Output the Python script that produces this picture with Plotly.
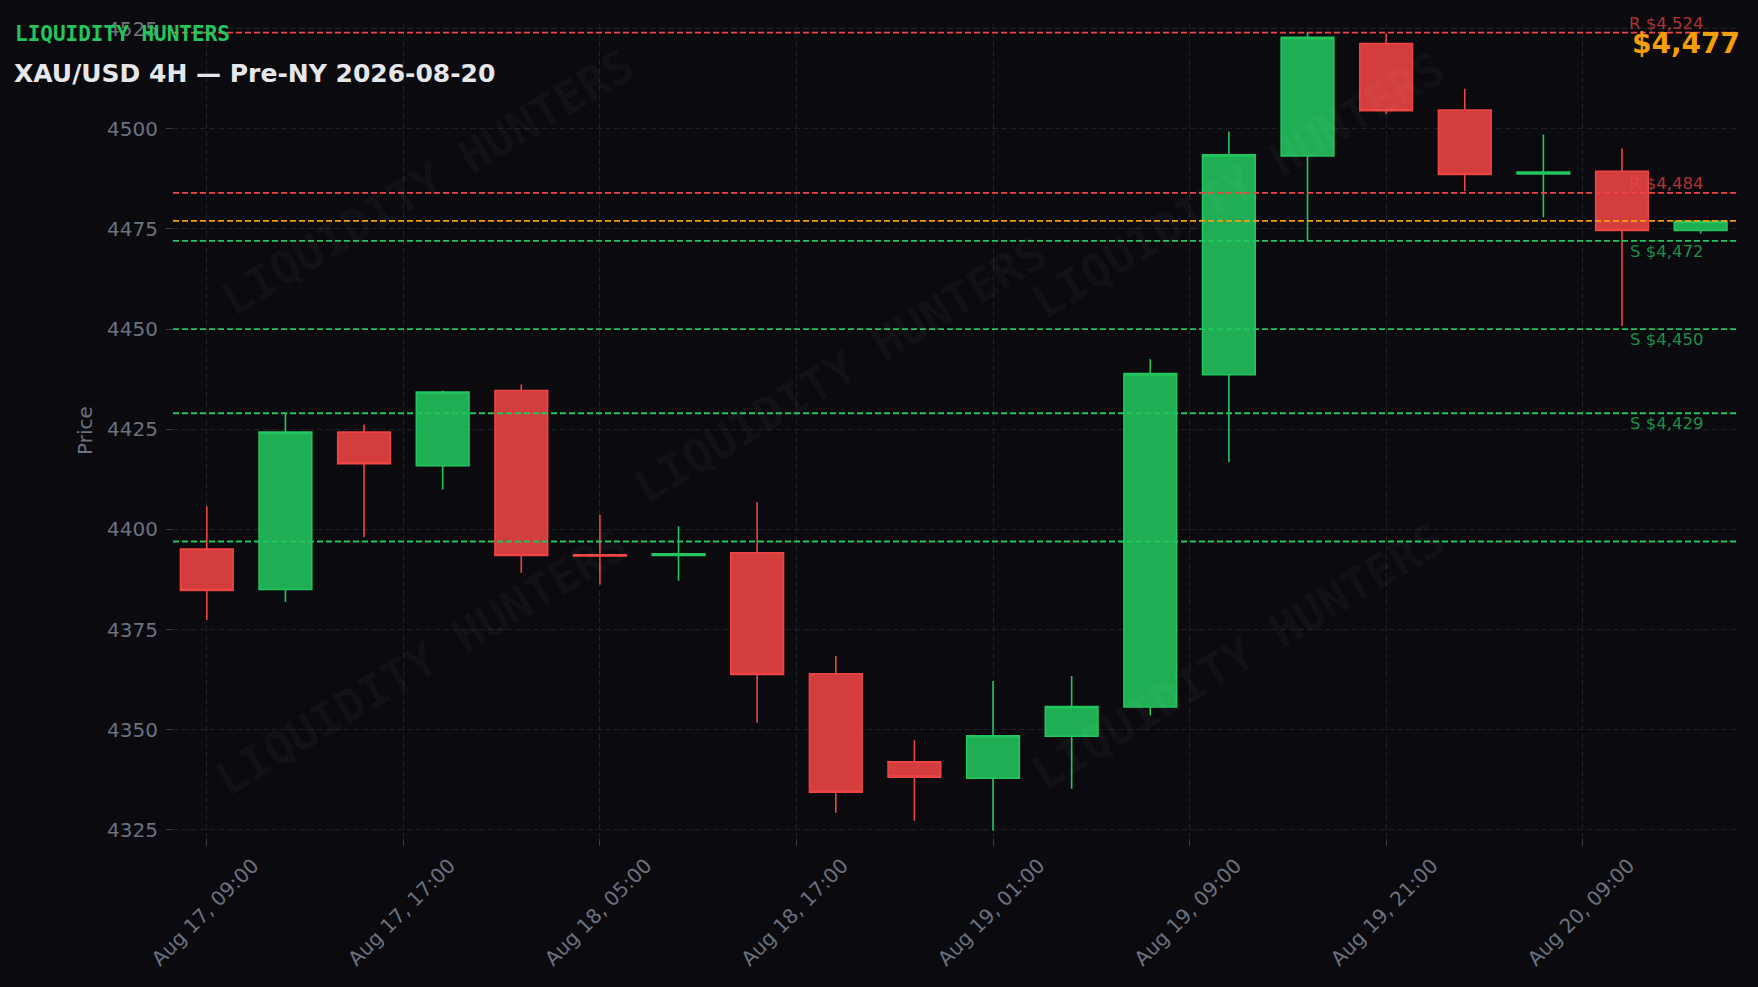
import plotly.graph_objects as go

# ---- data ----
candle_idx = list(range(20))
opens  = [4395.1, 4385.0, 4424.3, 4415.9, 4434.7, 4393.7, 4393.5, 4394.2, 4364.0, 4342.0,
          4337.9, 4348.4, 4355.7, 4438.6, 4493.2, 4521.3, 4504.7, 4488.7, 4489.4, 4474.6]
highs  = [4405.8, 4428.9, 4426.2, 4434.7, 4436.2, 4403.6, 4400.8, 4406.8, 4368.4, 4347.4,
          4362.2, 4363.4, 4442.5, 4499.3, 4524.1, 4523.7, 4510.0, 4498.6, 4495.1, 4476.9]
lows   = [4377.4, 4381.9, 4398.1, 4410.0, 4389.2, 4386.2, 4387.2, 4351.8, 4329.3, 4327.3,
          4324.8, 4335.3, 4353.6, 4416.8, 4472.1, 4503.7, 4484.4, 4477.9, 4450.8, 4473.8]
closes = [4384.8, 4424.3, 4416.4, 4434.3, 4393.5, 4393.4, 4393.9, 4363.8, 4334.4, 4338.2,
          4348.5, 4355.8, 4438.9, 4493.5, 4522.8, 4504.5, 4488.6, 4489.2, 4474.6, 4476.9]

tick_labels = ["Aug 17, 09:00", "Aug 17, 17:00", "Aug 18, 05:00", "Aug 18, 17:00",
               "Aug 19, 01:00", "Aug 19, 09:00", "Aug 19, 21:00", "Aug 20, 09:00"]
tick_step = 2.5  # candles between labelled ticks

level_prices = [4524, 4484, 4472, 4450, 4429, 4397]
level_kinds  = ["R", "R", "S", "S", "S", "S"]
level_show_label = [True, True, True, True, True, False]
current_price = 4477

title_text = "XAU/USD 4H \u2014 Pre-NY 2026-08-20"
brand_text = "LIQUIDITY HUNTERS"
y_ticks = [4325, 4350, 4375, 4400, 4425, 4450, 4475, 4500, 4525]

# ---- styling ----
BG = "#0a0a0f"
GRID = "#1e2028"
TICKC = "#6b7280"
GREEN = "#22c55e"
RED = "#ef4444"
ORANGE = "#f59e0b"
SANS = "DejaVu Sans"
MONO = "DejaVu Sans Mono"

fig = go.Figure()
fig.add_trace(go.Candlestick(
    x=candle_idx, open=opens, high=highs, low=lows, close=closes,
    increasing=dict(line=dict(color=GREEN, width=1.6), fillcolor="rgba(34,197,94,0.88)"),
    decreasing=dict(line=dict(color=RED, width=1.6), fillcolor="rgba(239,68,68,0.88)"),
    whiskerwidth=0, showlegend=False, hoverinfo="skip",
))

shapes = []
annotations = []

# watermarks
wm_pos = [(0.163, 0.805), (0.427, 0.574), (0.682, 0.801), (0.159, 0.216), (0.682, 0.223)]
for (wx, wy) in wm_pos:
    annotations.append(dict(
        xref="paper", yref="paper", x=wx, y=wy, text=brand_text, showarrow=False,
        textangle=-31, font=dict(family=MONO, size=46, color="rgba(255,255,255,0.04)", weight="bold"),
        xanchor="center", yanchor="middle",
    ))

for p, k, show in zip(level_prices, level_kinds, level_show_label):
    col = RED if k == "R" else GREEN
    shapes.append(dict(type="line", xref="paper", x0=0, x1=1, yref="y", y0=p, y1=p,
                       line=dict(color=col, width=1.8, dash="6px,3px"), layer="above"))
    if show:
        lab_col = "rgba(239,68,68,0.72)" if k == "R" else "rgba(34,197,94,0.72)"
        annotations.append(dict(
            xref="paper", yref="y", x=0.98, y=p, text=f"{k} ${p:,}", showarrow=False,
            xanchor="right", yanchor="bottom" if k == "R" else "top",
            yshift=-2 if k == "R" else 1,
            font=dict(family=SANS, size=16.5, color=lab_col),
        ))

shapes.append(dict(type="line", xref="paper", x0=0, x1=1, yref="y", y0=current_price, y1=current_price,
                   line=dict(color=ORANGE, width=1.8, dash="6px,3px"), layer="above"))
annotations.append(dict(
    xref="paper", yref="paper", x=1.004, y=0.997, text=f"${current_price:,}", showarrow=False,
    xanchor="right", yanchor="top", font=dict(family=SANS, size=28, color=ORANGE, weight="bold"),
))
annotations.append(dict(
    xref="paper", yref="paper", x=-0.1025, y=0.987, text=brand_text, showarrow=False,
    xanchor="left", yanchor="middle", font=dict(family=MONO, size=21, color=GREEN, weight="bold"),
))

fig.update_layout(
    width=1758, height=987, autosize=False,
    paper_bgcolor=BG, plot_bgcolor=BG,
    margin=dict(l=173, r=22, t=23, b=149),
    boxgap=0.33, boxgroupgap=0,
    title=dict(text=title_text, x=14 / 1758, xanchor="left", xref="container",
               y=1 - 73 / 987, yanchor="middle", yref="container",
               font=dict(family=SANS, size=25, color="#e5e7eb", weight="bold")),
    shapes=shapes, annotations=annotations, showlegend=False,
    xaxis=dict(
        range=[-0.43, 19.45], rangeslider=dict(visible=False),
        tickmode="array", tickvals=[i * tick_step for i in range(len(tick_labels))], ticktext=tick_labels,
        tickangle=-45, tickfont=dict(family=SANS, size=20, color=TICKC), ticklabelshift=46,
        showgrid=True, gridcolor=GRID, griddash="6px,3px", gridwidth=1,
        ticks="outside", ticklen=7, tickcolor="#3a3d48", zeroline=False, showline=False,
    ),
    yaxis=dict(
        range=[4323.0, 4526.4], tickmode="array", tickvals=y_ticks,
        tickfont=dict(family=SANS, size=20, color=TICKC), ticklabelstandoff=4,
        title=dict(text="Price", font=dict(family=SANS, size=20, color=TICKC), standoff=9),
        showgrid=True, gridcolor=GRID, griddash="6px,3px", gridwidth=1,
        ticks="outside", ticklen=6, tickcolor="#3a3d48", zeroline=False, showline=False,
    ),
)

fig.write_html(
    "out.html",
    config={"displayModeBar": False},
    post_script="document.body.style.margin='0';document.documentElement.style.overflow='hidden';"
                "document.body.style.background='" + BG + "';",
)
